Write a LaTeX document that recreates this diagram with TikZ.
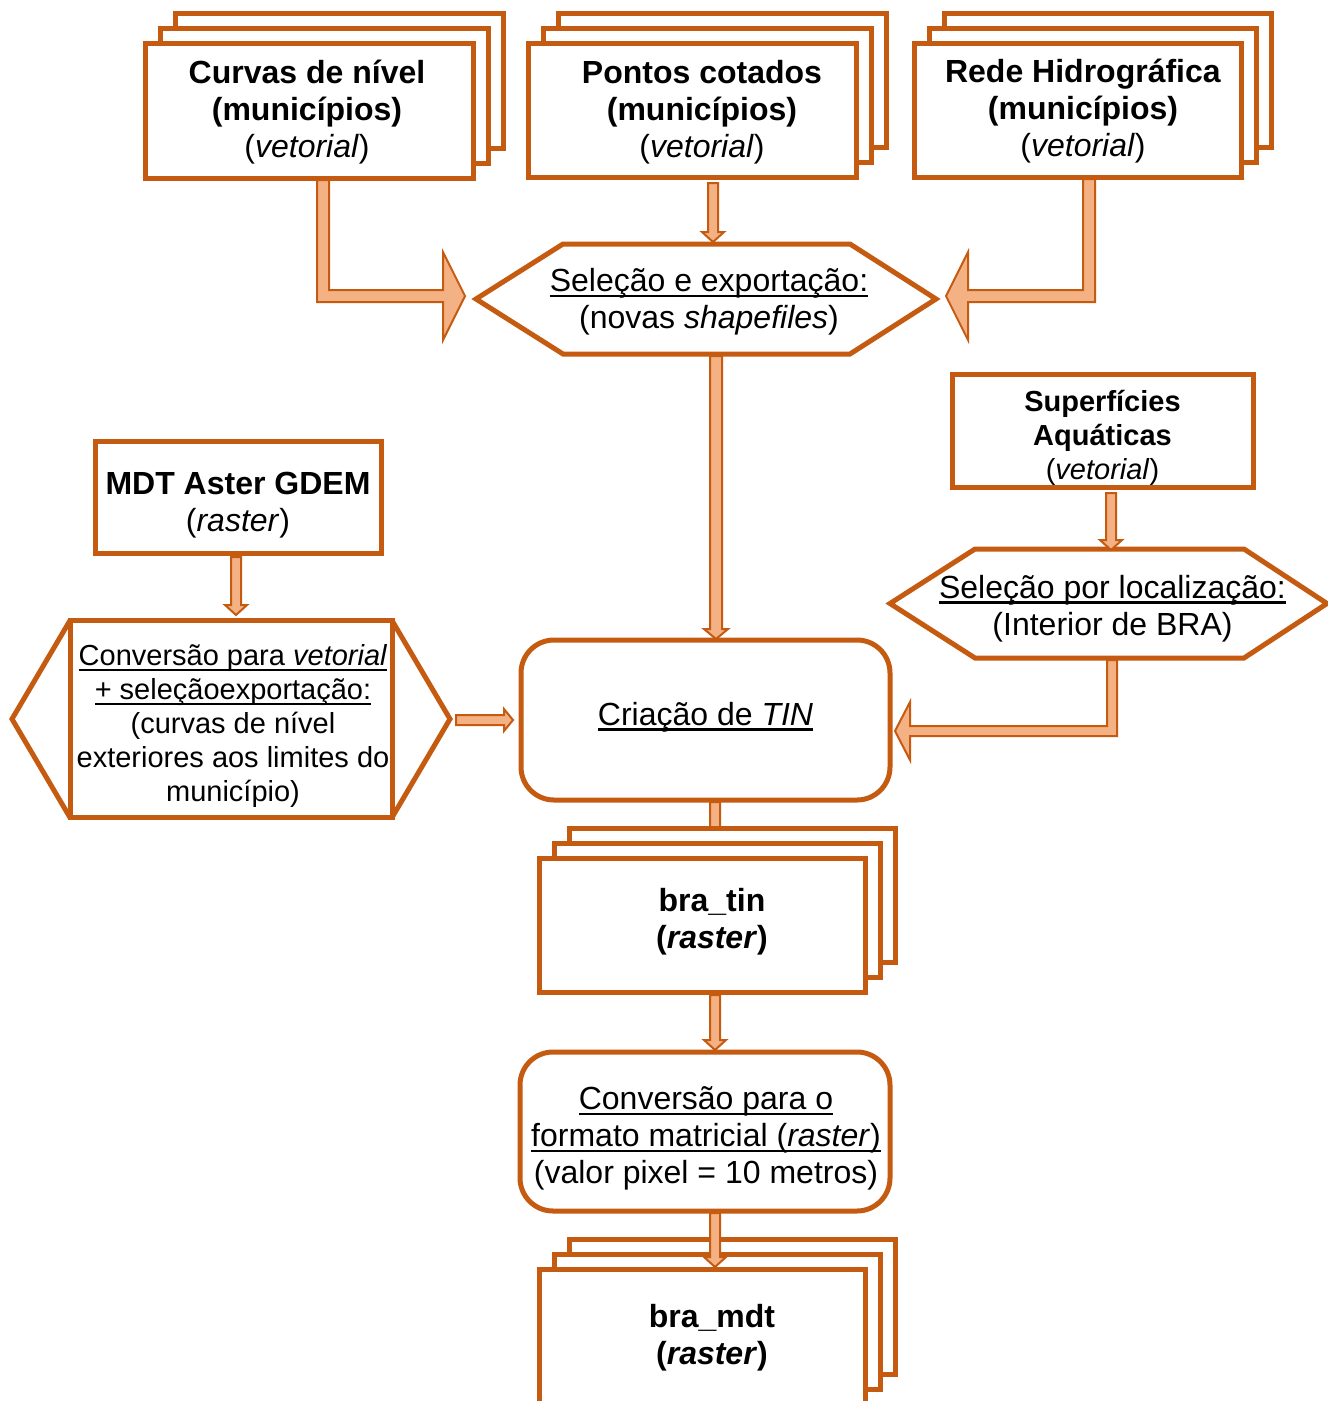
\documentclass[tikz,border=0pt]{standalone}
\usepackage{fontspec}
\setmainfont{Liberation Sans}
\usetikzlibrary{calc}
\definecolor{orng}{HTML}{C55A11}
\definecolor{lorng}{HTML}{F4B183}
\newcommand\myul[1]{\setbox0=\hbox{#1}\rlap{\rule[-5.5pt]{\wd0}{2.5pt}}\box0}
\tikzset{
  frame/.style={inner sep=0pt, outer sep=0pt},
  box/.style={draw=orng, fill=white, line width=5pt, line join=miter},
  outl/.style={draw=orng, line width=5pt, line join=miter},
  blk/.style={draw=orng, fill=lorng, line width=2pt, line join=miter},
  bigf/.style={font=\fontsize{32}{37}\selectfont, align=center, inner sep=0pt},
  midf/.style={font=\fontsize{29}{34}\selectfont, align=center, inner sep=0pt},
}
% stacked copies behind a node
\newcommand\stackof[1]{%
  \draw[box] ($(#1.south west)+(30,-30)$) rectangle ($(#1.north east)+(30,-30)$);
  \draw[box] ($(#1.south west)+(15,-15)$) rectangle ($(#1.north east)+(15,-15)$);
  \draw[box] (#1.south west) rectangle (#1.north east);}
% straight down block arrow: #1 shaft half width, #2 head half width, #3 start, #4 tip
\newcommand\dnarrow[4]{%
  \filldraw[blk] ($(#3)+(-#1,0)$) -- ($(#4)+(-#1,-10)$) -- ($(#4)+(-#2,-10)$) -- (#4)
    -- ($(#4)+(#2,-10)$) -- ($(#4)+(#1,-10)$) -- ($(#3)+(#1,0)$) -- cycle;}
% straight right block arrow
\newcommand\rtarrow[2]{%
  \filldraw[blk] ($(#1)+(0,-5)$) -- ($(#2)+(-9,-5)$) -- ($(#2)+(-9,-11)$) -- (#2)
    -- ($(#2)+(-9,11)$) -- ($(#2)+(-9,5)$) -- ($(#1)+(0,5)$) -- cycle;}
% L-shaped block arrow: start, corner, tip, sigma(+1 right/-1 left), shaft half, head half, head length
\newcommand\Larrow[7]{%
  \filldraw[blk] ($(#1)+({(#4)*(-#5)},0)$) -- ($(#2)+({(#4)*(-#5)},#5)$)
    -- ($(#3)+({(#4)*(-#7)},#5)$) -- ($(#3)+({(#4)*(-#7)},#6)$) -- (#3)
    -- ($(#3)+({(#4)*(-#7)},-#6)$) -- ($(#3)+({(#4)*(-#7)},-#5)$)
    -- ($(#2)+({(#4)*(#5)},-#5)$) -- ($(#1)+({(#4)*(#5)},0)$) -- cycle;}
\begin{document}
\begin{tikzpicture}[x=1pt,y=-1pt]
\useasboundingbox (0,0) rectangle (1328,1401);

% ---------- top stacked inputs ----------
\node[frame, minimum width=328, minimum height=135] (curvas) at (309,110.5) {};
\stackof{curvas}
\node[bigf] (curvasT) at (307,112) {\textbf{Curvas de nível}\\\textbf{(municípios)}\\(\textit{vetorial})};

\node[frame, minimum width=328, minimum height=134] (pontos) at (692,110) {};
\stackof{pontos}
\node[bigf] (pontosT) at (702,112.5) {\textbf{Pontos cotados}\\\textbf{(municípios)}\\(\textit{vetorial})};

\node[frame, minimum width=327, minimum height=134] (rede) at (1077.5,110) {};
\stackof{rede}
\node[bigf] (redeT) at (1083,111) {\textbf{Rede Hidrográfica}\\\textbf{(municípios)}\\(\textit{vetorial})};

% ---------- selection hexagon ----------
\node[frame, minimum width=460, minimum height=110] (sel1) at (706,299) {};
\draw[outl] (sel1.west) -- ($(sel1.north west)+(87,0)$) -- ($(sel1.north east)+(-86,0)$)
  -- (sel1.east) -- ($(sel1.south east)+(-86,0)$) -- ($(sel1.south west)+(87,0)$) -- cycle;
\node[bigf] (sel1T) at ($(sel1)+(3,3)$) {\myul{Seleção e exportação:}\\(novas \textit{shapefiles})};

% ---------- right branch ----------
\node[box, frame, minimum width=301, minimum height=113.5] (superf) at (1102.5,431) {};
\node[midf] (superfT) at ($(superf)+(0,7)$) {\textbf{Superfícies}\\\textbf{Aquáticas}\\(\textit{vetorial})};

\node[frame, minimum width=437, minimum height=109] (sel2) at (1108.5,603.5) {};
\draw[outl] (sel2.west) -- ($(sel2.north west)+(85,0)$) -- ($(sel2.north east)+(-83,0)$)
  -- (sel2.east) -- ($(sel2.south east)+(-83,0)$) -- ($(sel2.south west)+(85,0)$) -- cycle;
\node[bigf] (sel2T) at ($(sel2)+(4,5)$) {\myul{Seleção por localização:}\\(Interior de BRA)};

% ---------- left branch ----------
\node[box, frame, minimum width=286, minimum height=112] (mdt) at (238,497) {};
\node[bigf] (mdtT) at ($(mdt)+(0,8)$) {\textbf{MDT Aster GDEM}\\(\textit{raster})};

\node[box, frame, minimum width=322, minimum height=197] (lhex) at (231,719) {};
\draw[outl] (lhex.north west) -- ($(lhex.west)+(-58,0)$) -- (lhex.south west);
\draw[outl] (lhex.north east) -- ($(lhex.east)+(58,0)$) -- (lhex.south east);
\node[midf] (lhexT) at ($(lhex)+(2,7)$)
  {\myul{Conversão para \textit{vetorial}}\\\myul{+ seleçãoexportação:}\\(curvas de nível\\exteriores aos limites do\\município)};

% ---------- TIN ----------
\node[box, frame, rounded corners=33pt, minimum width=369, minimum height=160] (tin) at (705.5,720) {};
\node[bigf] (tinT) at ($(tin)+(0,-3)$) {\myul{Criação de \textit{TIN}}};

% hidden connector TIN -> bra_tin
\coordinate (t1) at ($(tin.south)+(9.5,2)$);
\coordinate (t2) at (715,857);
\dnarrow{5}{11}{t1}{t2}

\node[frame, minimum width=326, minimum height=134] (bratin) at (702.5,925) {};
\stackof{bratin}
\node[bigf] (bratinT) at (712,922) {\textbf{bra\_tin}\\\textbf{(\textit{raster})}};

% ---------- conversion ----------
\node[box, frame, rounded corners=33pt, minimum width=370, minimum height=159] (conv) at (705,1131.5) {};
\node[bigf] (convT) at ($(conv)+(1,7)$)
  {\myul{Conversão para o}\\\myul{formato matricial (\textit{raster})}\\(valor pixel = 10 metros)};

\node[frame, minimum width=326, minimum height=135] (bramdt) at (702.5,1337) {};
\stackof{bramdt}
\node[bigf] (bramdtT) at (712,1338) {\textbf{bra\_mdt}\\\textbf{(\textit{raster})}};

% ---------- connectors ----------
\coordinate (cvS) at (323,180);
\coordinate (cvC) at (323,296);
\coordinate (cvE) at ($(sel1.west)+(-11,-3)$);
\Larrow{cvS}{cvC}{cvE}{1}{6}{44}{22}

\coordinate (rdS) at (1089,179);
\coordinate (rdC) at (1089,296);
\coordinate (rdE) at ($(sel1.east)+(10,-3)$);
\Larrow{rdS}{rdC}{rdE}{-1}{6}{44}{22}

\coordinate (p1) at (713,183);
\coordinate (p2) at (713,242);
\dnarrow{5}{11}{p1}{p2}

\coordinate (h1) at (716,356);
\coordinate (h2) at (716,639);
\dnarrow{6}{12}{h1}{h2}

\coordinate (s1) at (1111,493);
\coordinate (s2) at (1111,550);
\dnarrow{5}{11}{s1}{s2}

\coordinate (q1) at (1112,660);
\coordinate (q2) at (1112,731);
\coordinate (q3) at (895,731);
\Larrow{q1}{q2}{q3}{-1}{5}{29}{15}

\coordinate (m1) at (236,557);
\coordinate (m2) at (236,615);
\dnarrow{5}{11}{m1}{m2}

\coordinate (l1) at (456,720);
\coordinate (l2) at (513,720);
\rtarrow{l1}{l2}

\coordinate (b1) at (715,995);
\coordinate (b2) at (715,1050);
\dnarrow{5}{11}{b1}{b2}

\coordinate (c1) at (715,1213);
\coordinate (c2) at (715,1267);
\dnarrow{5}{11}{c1}{c2}
\end{tikzpicture}
\end{document}
